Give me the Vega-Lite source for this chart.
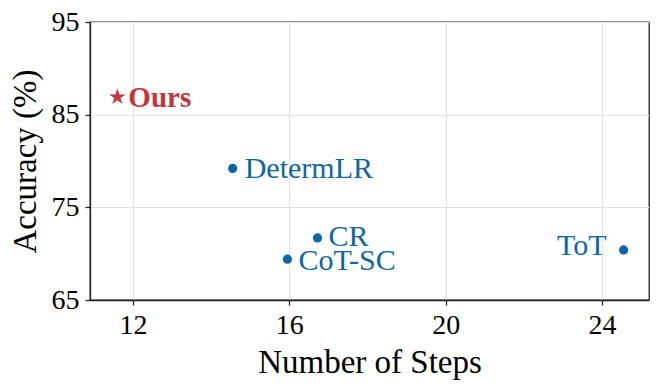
{
  "$schema": "https://vega.github.io/schema/vega-lite/v6.json",
  "autosize": "none",
  "width": 559,
  "height": 278,
  "padding": {"left": 90, "top": 22, "right": 12, "bottom": 88},
  "background": "white",
  "config": {
    "font": "'Liberation Serif', 'Times New Roman', Times, serif",
    "view": {"stroke": "#222", "strokeWidth": 1.3},
    "axis": {
      "labelFont": "'Liberation Serif', 'Times New Roman', Times, serif",
      "titleFont": "'Liberation Serif', 'Times New Roman', Times, serif",
      "labelFontSize": 28,
      "titleFontSize": 33,
      "titleFontWeight": "normal",
      "labelColor": "black",
      "titleColor": "black",
      "domainColor": "#222",
      "domainWidth": 1.3,
      "tickColor": "#222",
      "tickWidth": 1.3,
      "tickSize": 5,
      "gridColor": "#e2e2e2",
      "gridWidth": 1,
      "labelPadding": 6
    }
  },
  "data": {
    "values": [
      {"method": "Ours", "steps": 11.6, "accuracy": 86.9},
      {"method": "DetermLR", "steps": 14.55, "accuracy": 79.2},
      {"method": "CR", "steps": 16.72, "accuracy": 71.7},
      {"method": "CoT-SC", "steps": 15.95, "accuracy": 69.4},
      {"method": "ToT", "steps": 24.55, "accuracy": 70.4}
    ]
  },
  "encoding": {
    "x": {
      "field": "steps",
      "type": "quantitative",
      "scale": {"domain": [10.9, 25.2], "nice": false, "zero": false},
      "axis": {"values": [12, 16, 20, 24], "title": "Number of Steps", "titlePadding": 7, "labelFlush": false}
    },
    "y": {
      "field": "accuracy",
      "type": "quantitative",
      "scale": {"domain": [65, 95], "nice": false, "zero": false},
      "axis": {"values": [65, 75, 85, 95], "title": "Accuracy (%)", "titlePadding": 9, "labelFlush": false}
    }
  },
  "layer": [
    {
      "transform": [{"filter": "datum.method !== 'Ours'"}],
      "mark": {"type": "point", "shape": "circle", "filled": true, "opacity": 1, "size": 85, "color": "#0f66a6"}
    },
    {
      "transform": [{"filter": "datum.method === 'Ours'"}],
      "mark": {"type": "point", "shape": "M0,-1 L0.2245,-0.309 L0.951,-0.309 L0.363,0.118 L0.588,0.809 L0,0.382 L-0.588,0.809 L-0.363,0.118 L-0.951,-0.309 L-0.2245,-0.309 Z", "filled": true, "opacity": 1, "size": 300, "color": "#c5343b"}
    },
    {
      "transform": [{"filter": "datum.method === 'Ours'"}],
      "mark": {"type": "text", "align": "left", "baseline": "middle", "dx": 11, "dy": 1, "font": "'Liberation Serif', 'Times New Roman', Times, serif", "fontSize": 29, "fontWeight": "bold", "color": "#c5343b"},
      "encoding": {"text": {"field": "method"}}
    },
    {
      "transform": [{"filter": "datum.method === 'DetermLR'"}],
      "mark": {"type": "text", "align": "left", "baseline": "middle", "dx": 12, "dy": 1, "font": "'Liberation Serif', 'Times New Roman', Times, serif", "fontSize": 30, "color": "#0f66a6"},
      "encoding": {"text": {"field": "method"}}
    },
    {
      "transform": [{"filter": "datum.method === 'CR'"}],
      "mark": {"type": "text", "align": "left", "baseline": "middle", "dx": 11, "dy": -1, "font": "'Liberation Serif', 'Times New Roman', Times, serif", "fontSize": 30, "color": "#0f66a6"},
      "encoding": {"text": {"field": "method"}}
    },
    {
      "transform": [{"filter": "datum.method === 'CoT-SC'"}],
      "mark": {"type": "text", "align": "left", "baseline": "middle", "dx": 11, "dy": 2, "font": "'Liberation Serif', 'Times New Roman', Times, serif", "fontSize": 30, "color": "#0f66a6"},
      "encoding": {"text": {"field": "method"}}
    },
    {
      "transform": [{"filter": "datum.method === 'ToT'"}],
      "mark": {"type": "text", "align": "right", "baseline": "middle", "dx": -17, "dy": -4, "font": "'Liberation Serif', 'Times New Roman', Times, serif", "fontSize": 30, "color": "#0f66a6"},
      "encoding": {"text": {"field": "method"}}
    }
  ]
}
